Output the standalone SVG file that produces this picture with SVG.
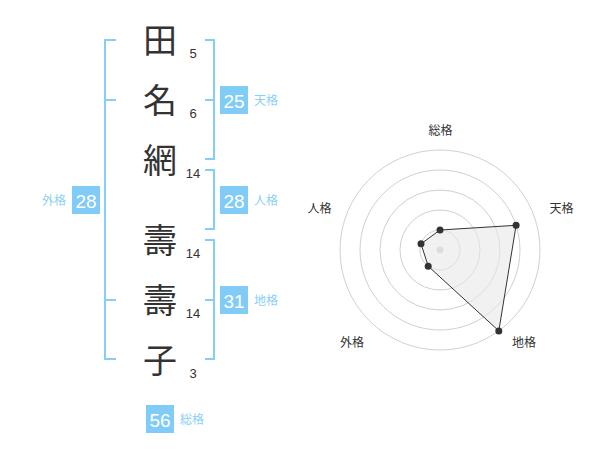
<svg xmlns="http://www.w3.org/2000/svg" width="600" height="470" viewBox="0 0 600 470">
<style>
.ch{font-family:"Noto Sans CJK JP","Noto Sans CJK SC",sans-serif;font-size:34px;fill:#333;text-anchor:middle}
.num{font-family:"Liberation Sans",Arial,sans-serif;font-size:13px;fill:#333;text-anchor:middle}
.br{fill:none;stroke:#86cdf7;stroke-width:2}
.box{fill:#80ccf7}
.bn{font-family:"Liberation Sans",Arial,sans-serif;font-size:19px;fill:#fff;text-anchor:middle}
.lb{font-family:"Noto Sans CJK JP",sans-serif;font-size:12px;fill:#8ad0f6}
.rl{font-family:"Noto Sans CJK JP",sans-serif;font-size:12px;fill:#333;text-anchor:middle}
.ring{fill:none;stroke:#d0d0d0;stroke-width:1}
</style>
<rect width="600" height="470" fill="#fff"/>
<g id="chars">
<text class="ch" x="160" y="53">田</text>
<text class="ch" x="160" y="113">名</text>
<text class="ch" x="160" y="173">網</text>
<text class="ch" x="160" y="253">壽</text>
<text class="ch" x="160" y="313">壽</text>
<text class="ch" x="160" y="373">子</text>
</g>
<g id="strokes">
<text class="num" x="193" y="58">5</text>
<text class="num" x="193" y="118">6</text>
<text class="num" x="193" y="178">14</text>
<text class="num" x="193" y="258">14</text>
<text class="num" x="193" y="318">14</text>
<text class="num" x="193" y="378">3</text>
</g>
<g id="connectors">
<path class="br" d="M116,40 H105 V359 H116 M105,100 H116 M105,300 H116"/>
<path class="br" d="M205,40 H214 V159 H205 M214,100 H205"/>
<path class="br" d="M205,170 H214 V229 H205"/>
<path class="br" d="M205,240 H214 V359 H205 M214,300 H205"/>
</g>
<g id="tenkaku">
<rect class="box" x="220" y="86" width="28" height="28"/>
<text class="bn" x="234" y="108">25</text>
<text class="lb" x="254" y="105">天格</text>
</g>
<g id="jinkaku">
<rect class="box" x="220" y="186" width="28" height="28"/>
<text class="bn" x="234" y="208">28</text>
<text class="lb" x="254" y="205">人格</text>
</g>
<g id="chikaku">
<rect class="box" x="220" y="286" width="28" height="28"/>
<text class="bn" x="234" y="308">31</text>
<text class="lb" x="254" y="305">地格</text>
</g>
<g id="gaikaku">
<rect class="box" x="72" y="186" width="28" height="28"/>
<text class="bn" x="86" y="208">28</text>
<text class="lb" x="42" y="205">外格</text>
</g>
<g id="soukaku">
<rect class="box" x="146" y="405" width="28" height="28"/>
<text class="bn" x="160" y="427">56</text>
<text class="lb" x="180" y="424">総格</text>
</g>
<g id="radar">
<circle class="ring" cx="440" cy="250" r="20"/>
<circle class="ring" cx="440" cy="250" r="40"/>
<circle class="ring" cx="440" cy="250" r="60"/>
<circle class="ring" cx="440" cy="250" r="80"/>
<circle class="ring" cx="440" cy="250" r="100"/>
<circle cx="440" cy="250" r="3.5" fill="#ccc"/>
<polygon points="440,230 516.1,225.3 498.8,330.9 428.2,266.2 421,243.8" fill="#e8e8e8" fill-opacity="0.6" stroke="#333" stroke-width="1"/>
<g fill="#333">
<circle cx="440" cy="230" r="3.5"/>
<circle cx="516.1" cy="225.3" r="3.5"/>
<circle cx="498.8" cy="330.9" r="3.5"/>
<circle cx="428.2" cy="266.2" r="3.5"/>
<circle cx="421" cy="243.8" r="3.5"/>
</g>
<text class="rl" x="440.5" y="135">総格</text>
<text class="rl" x="561.5" y="213">天格</text>
<text class="rl" x="319.5" y="213">人格</text>
<text class="rl" x="352" y="347">外格</text>
<text class="rl" x="524" y="347">地格</text>
</g>
</svg>
